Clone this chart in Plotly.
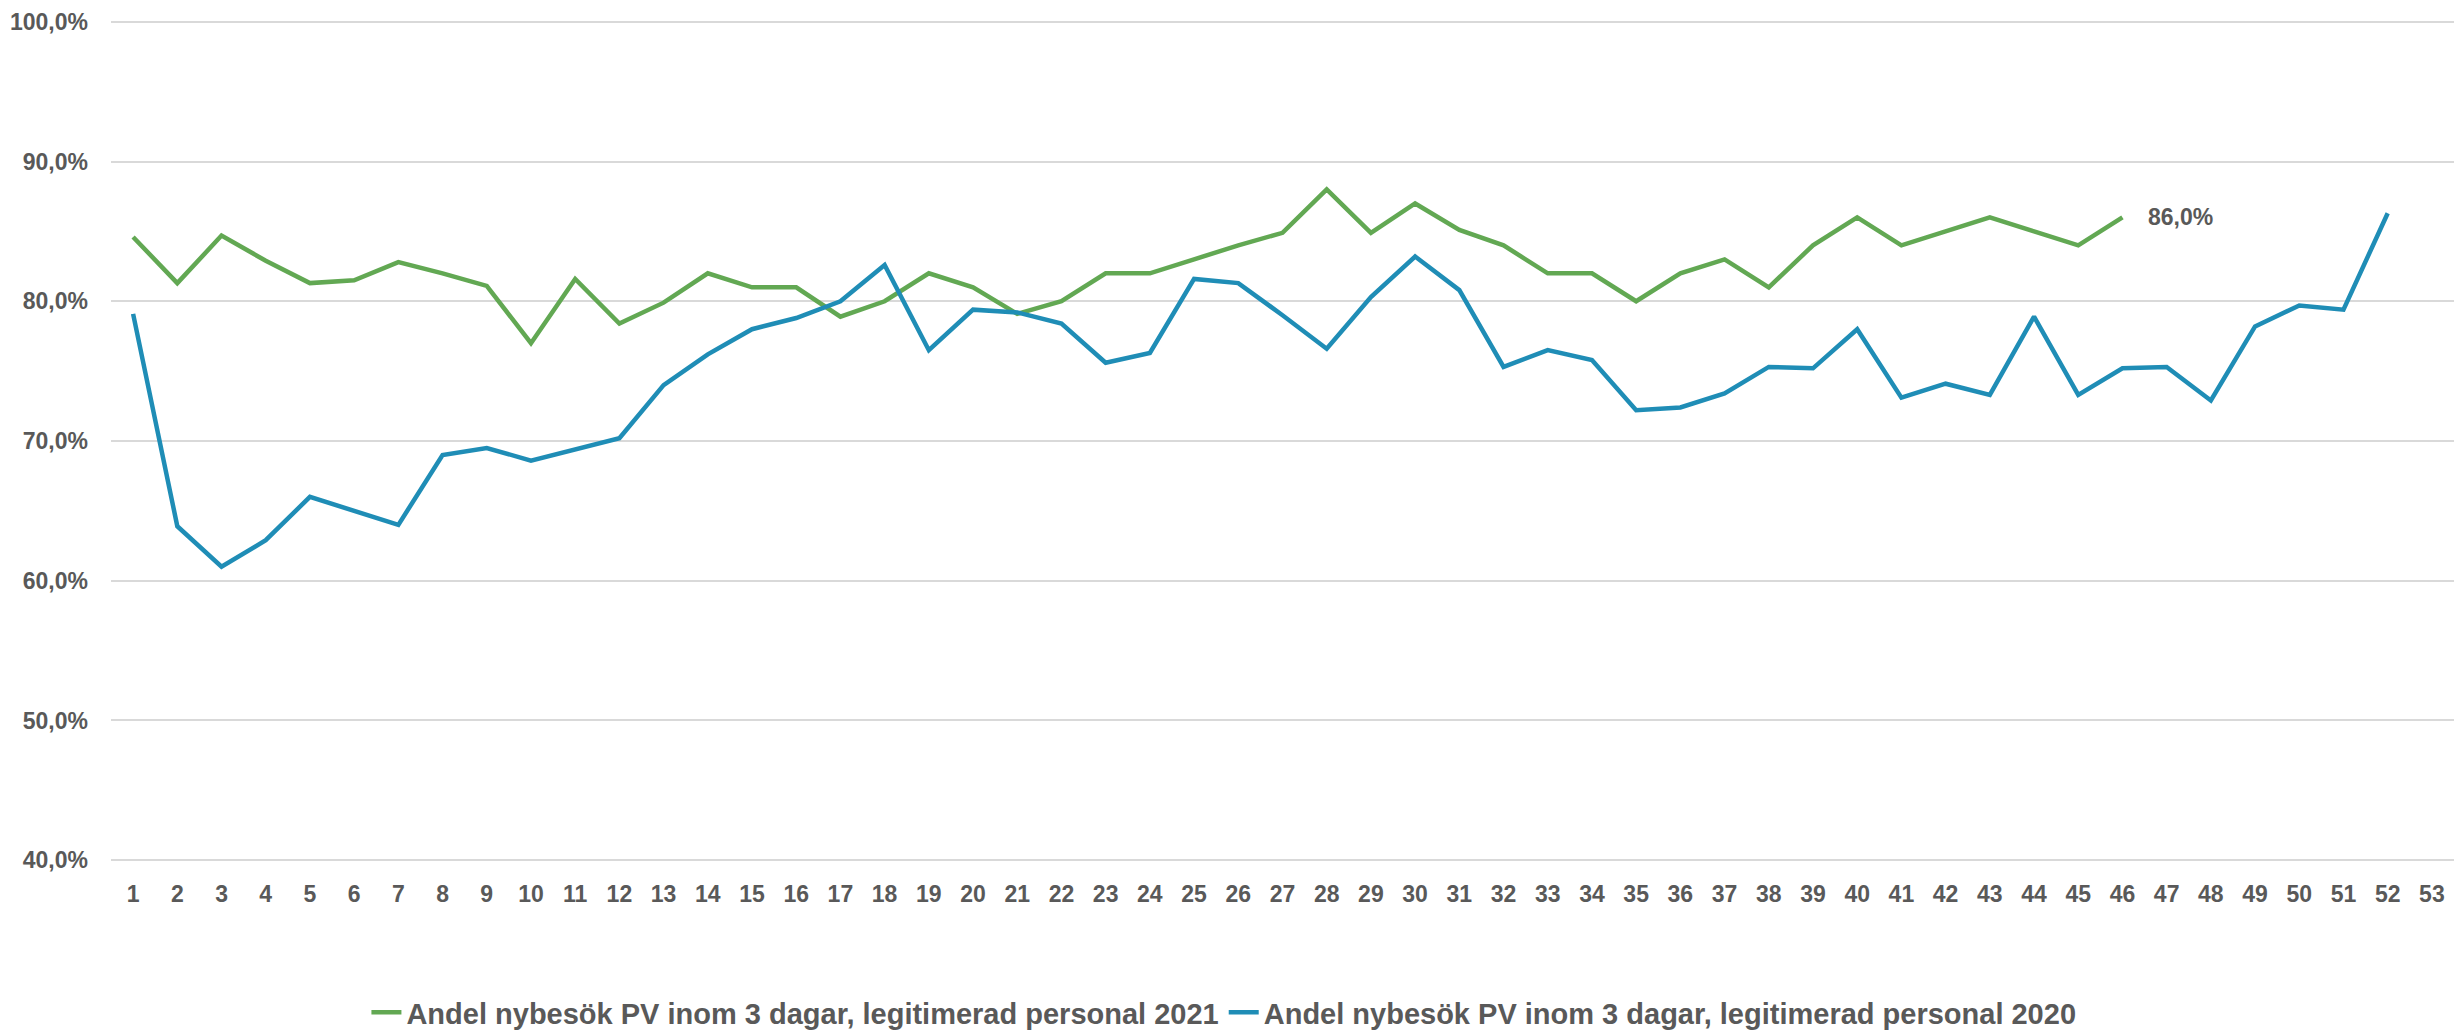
import plotly.graph_objects as go

weeks = list(range(1, 54))

# Andel nybesök PV inom 3 dagar (%), legitimerad personal
values_2021 = [84.6, 81.3, 84.7, 82.9, 81.3, 81.5, 82.8, 82.0, 81.1, 77.0,
               81.6, 78.4, 79.9, 82.0, 81.0, 81.0, 78.9, 80.0, 82.0, 81.0,
               79.1, 80.0, 82.0, 82.0, 83.0, 84.0, 84.9, 88.0, 84.9, 87.0,
               85.1, 84.0, 82.0, 82.0, 80.0, 82.0, 83.0, 81.0, 84.0, 86.0,
               84.0, 85.0, 86.0, 85.0, 84.0, 86.0]
values_2020 = [79.1, 63.9, 61.0, 62.9, 66.0, 65.0, 64.0, 69.0, 69.5, 68.6,
               69.4, 70.2, 74.0, 76.2, 78.0, 78.8, 80.0, 82.6, 76.5, 79.4,
               79.2, 78.4, 75.6, 76.3, 81.6, 81.3, 79.0, 76.6, 80.3, 83.2,
               80.8, 75.3, 76.5, 75.8, 72.2, 72.4, 73.4, 75.3, 75.2, 78.0,
               73.1, 74.1, 73.3, 78.9, 73.3, 75.2, 75.3, 72.9, 78.2, 79.7,
               79.4, 86.3]
y_ticks = [40, 50, 60, 70, 80, 90, 100]

name_2021 = "Andel nybesök PV inom 3 dagar, legitimerad personal 2021"
name_2020 = "Andel nybesök PV inom 3 dagar, legitimerad personal 2020"

green = "#62A853"
blue = "#1F8DB6"
grey_text = "#595959"
font_family = "Liberation Sans, Arial, sans-serif"


def pct(v):
    return f"{v:.1f}%".replace(".", ",")


fig = go.Figure()
fig.add_trace(go.Scatter(
    x=weeks[:len(values_2021)], y=values_2021, name=f"<b>{name_2021}</b>",
    mode="lines", line=dict(color=green, width=4.5),
))
fig.add_trace(go.Scatter(
    x=weeks[:len(values_2020)], y=values_2020, name=f"<b>{name_2020}</b>",
    mode="lines", line=dict(color=blue, width=4.5),
))

last_week = len(values_2021)
last_val = values_2021[-1]
fig.add_annotation(
    x=last_week, y=last_val,
    text=f"<b>{pct(last_val)}</b>",
    showarrow=False, xanchor="left", yanchor="middle", xshift=24,
    font=dict(family=font_family, size=23, color=grey_text),
)

fig.update_layout(
    width=2455, height=1032,
    margin=dict(l=111, r=1, t=19, b=169, autoexpand=False),
    paper_bgcolor="white", plot_bgcolor="white",
    font=dict(family=font_family, size=23, color=grey_text),
    showlegend=True,
    legend=dict(
        orientation="h", xanchor="center", x=0.475,
        yanchor="middle", y=-0.177,
        font=dict(family=font_family, size=29, color=grey_text),
        bgcolor="rgba(0,0,0,0)",
    ),
    xaxis=dict(
        range=[0.5, 53.5], tickmode="array", tickvals=weeks,
        ticktext=[f"<b>{w}</b>" for w in weeks],
        showgrid=False, zeroline=False, showline=False,
        ticklabelstandoff=15, automargin=False,
        tickfont=dict(family=font_family, size=23, color=grey_text),
    ),
    yaxis=dict(
        range=[39.8, 100.2], tickmode="array", tickvals=y_ticks,
        ticktext=[f"<b>{pct(v)}</b>" for v in y_ticks],
        showgrid=True, gridcolor="#D9D9D9", gridwidth=2,
        zeroline=False, showline=False,
        ticklabelstandoff=22, automargin=False,
        tickfont=dict(family=font_family, size=23, color=grey_text),
    ),
)

# drop the default 8px page margin so the figure fills the window
fig.write_html("out.html", config={"displayModeBar": False},
               post_script="document.body.style.margin='0';")
